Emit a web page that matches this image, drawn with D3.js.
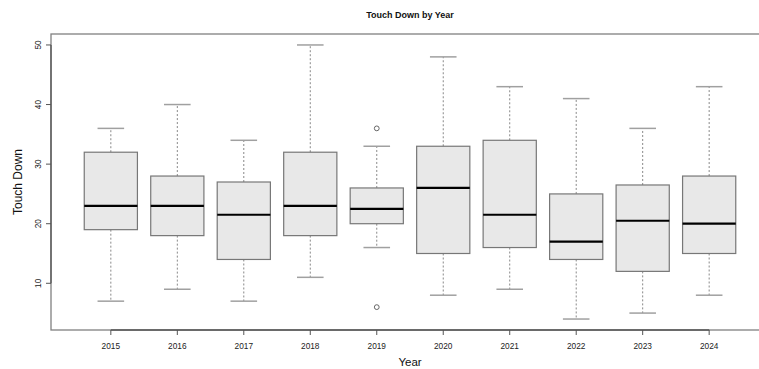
<!DOCTYPE html>
<html>
<head>
<meta charset="utf-8">
<script src="https://cdn.jsdelivr.net/npm/d3@7"></script>
<style>
  html, body { margin: 0; padding: 0; background: #fff; }
  svg { display: block; font-family: "Liberation Sans", Arial, Helvetica, sans-serif; }
</style>
</head>
<body>
<svg id="chart" width="759" height="369"></svg>
<script>
// Touch downs per season: five-number summaries and outliers
const years    = ["2015","2016","2017","2018","2019","2020","2021","2022","2023","2024"];
const whiskLo  = [7, 9, 7, 11, 16, 8, 9, 4, 5, 8];
const q1       = [19, 18, 14, 18, 20, 15, 16, 14, 12, 15];
const medians  = [23, 23, 21.5, 23, 22.5, 26, 21.5, 17, 20.5, 20];
const q3       = [32, 28, 27, 32, 26, 33, 34, 25, 26.5, 28];
const whiskHi  = [36, 40, 34, 50, 33, 48, 43, 41, 36, 43];
const outliers = [[], [], [], [], [36, 6], [], [], [], [], []];
const yTicks   = [10, 20, 30, 40, 50];

const svg = d3.select("#chart");
const plotL = 51, plotR = 769, plotT = 34, plotB = 330;

// index-based x positions (1..n), padded like a base-graphics boxplot
const n = years.length;
const x = d3.scaleLinear().domain([0.5 - 0.04 * n, n + 0.5 + 0.04 * n]).range([plotL, plotR]);
const yMin = d3.min(whiskLo.concat(outliers.flat()));
const yMax = d3.max(whiskHi.concat(outliers.flat()));
const pad = (yMax - yMin) * 0.04;
const y = d3.scaleLinear().domain([yMin - pad, yMax + pad]).range([plotB, plotT]);

const unit = x(2) - x(1);
const boxW = unit * 0.8;
const capW = boxW / 2;

const g = svg.append("g");
const rows = years.map((yr, i) => ({ yr, i, lo: whiskLo[i], q1: q1[i], med: medians[i], q3: q3[i], hi: whiskHi[i], out: outliers[i] }));

const item = g.selectAll("g.box").data(rows).join("g").attr("class", "box");

// whiskers (dashed)
item.append("line")
  .attr("x1", d => x(d.i + 1)).attr("x2", d => x(d.i + 1))
  .attr("y1", d => y(d.q3)).attr("y2", d => y(d.hi))
  .attr("stroke", "#888").attr("stroke-width", 1).attr("stroke-dasharray", "2,2");
item.append("line")
  .attr("x1", d => x(d.i + 1)).attr("x2", d => x(d.i + 1))
  .attr("y1", d => y(d.q1)).attr("y2", d => y(d.lo))
  .attr("stroke", "#888").attr("stroke-width", 1).attr("stroke-dasharray", "2,2");

// whisker caps
["lo", "hi"].forEach(k => {
  item.append("line")
    .attr("x1", d => x(d.i + 1) - capW / 2).attr("x2", d => x(d.i + 1) + capW / 2)
    .attr("y1", d => y(d[k])).attr("y2", d => y(d[k]))
    .attr("stroke", "#a0a0a0").attr("stroke-width", 1.5);
});

// boxes
item.append("rect")
  .attr("x", d => x(d.i + 1) - boxW / 2)
  .attr("width", boxW)
  .attr("y", d => y(d.q3))
  .attr("height", d => y(d.q1) - y(d.q3))
  .attr("fill", "#e8e8e8").attr("stroke", "#777").attr("stroke-width", 1.2);

// medians
item.append("line")
  .attr("x1", d => x(d.i + 1) - boxW / 2).attr("x2", d => x(d.i + 1) + boxW / 2)
  .attr("y1", d => y(d.med)).attr("y2", d => y(d.med))
  .attr("stroke", "#000").attr("stroke-width", 2.2);

// outliers
item.selectAll("circle").data(d => d.out.map(v => ({ v, i: d.i }))).join("circle")
  .attr("cx", d => x(d.i + 1)).attr("cy", d => y(d.v)).attr("r", 2.4)
  .attr("fill", "none").attr("stroke", "#666").attr("stroke-width", 1);

// plot frame
svg.append("rect")
  .attr("x", plotL).attr("y", plotT).attr("width", plotR - plotL).attr("height", plotB - plotT)
  .attr("fill", "none").attr("stroke", "#808080").attr("stroke-width", 1.3);

// y axis
const yAxis = svg.append("g");
yAxis.append("line").attr("x1", plotL).attr("x2", plotL)
  .attr("y1", y(yTicks[0])).attr("y2", y(yTicks[yTicks.length - 1]))
  .attr("stroke", "#555").attr("stroke-width", 1.3);
yTicks.forEach(t => {
  yAxis.append("line").attr("x1", plotL - 5).attr("x2", plotL).attr("y1", y(t)).attr("y2", y(t))
    .attr("stroke", "#555").attr("stroke-width", 1);
  yAxis.append("text")
    .attr("transform", `translate(${plotL - 10.5},${y(t)}) rotate(-90)`)
    .attr("text-anchor", "middle").attr("font-size", 8.3).attr("fill", "#222")
    .text(t);
});

// x axis
const xAxis = svg.append("g");
xAxis.append("line").attr("x1", x(1)).attr("x2", x(n)).attr("y1", plotB).attr("y2", plotB)
  .attr("stroke", "#555").attr("stroke-width", 1.3);
years.forEach((yr, i) => {
  xAxis.append("line").attr("x1", x(i + 1)).attr("x2", x(i + 1)).attr("y1", plotB).attr("y2", plotB + 5)
    .attr("stroke", "#555").attr("stroke-width", 1);
  xAxis.append("text").attr("x", x(i + 1)).attr("y", plotB + 19)
    .attr("text-anchor", "middle").attr("font-size", 8.3).attr("fill", "#222").text(yr);
});

// titles
svg.append("text").attr("x", (plotL + plotR) / 2).attr("y", 18)
  .attr("text-anchor", "middle").attr("font-size", 9).attr("font-weight", "bold").attr("fill", "#111")
  .text("Touch Down by Year");
svg.append("text").attr("x", (plotL + plotR) / 2).attr("y", 366)
  .attr("text-anchor", "middle").attr("font-size", 11.5).attr("fill", "#111").text("Year");
svg.append("text")
  .attr("transform", `translate(22,${(plotT + plotB) / 2}) rotate(-90)`)
  .attr("text-anchor", "middle").attr("font-size", 12).attr("fill", "#111").text("Touch Down");
</script>
</body>
</html>
